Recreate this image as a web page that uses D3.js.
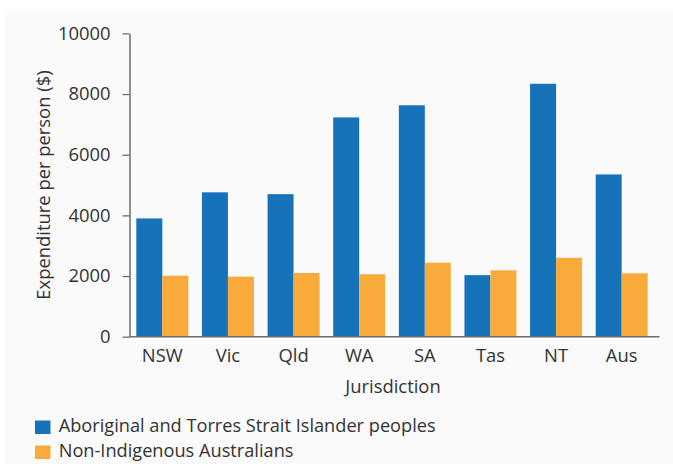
<!DOCTYPE html>
<html>
<head>
<meta charset="utf-8">
<script src="https://cdn.jsdelivr.net/npm/d3@7"></script>
<style>
  html, body { margin: 0; padding: 0; background: #ffffff; }
  svg { display: block; }
  text { font-family: "Open Sans", Lato, sans-serif; fill: #333333; }
</style>
</head>
<body>
<svg id="chart" width="673" height="464"></svg>
<script>
const categories = ["NSW", "Vic", "Qld", "WA", "SA", "Tas", "NT", "Aus"];
const seriesNames = ["Aboriginal and Torres Strait Islander peoples", "Non-Indigenous Australians"];
const indigenous = [3900, 4760, 4700, 7230, 7630, 2030, 8340, 5350];
const nonIndigenous = [2010, 1980, 2100, 2060, 2440, 2190, 2600, 2090];
const yTicks = [0, 2000, 4000, 6000, 8000, 10000];
const colors = ["#1673ba", "#f8ab3a"];
const FONT = "\"Open Sans\", sans-serif";
const FS = "18.4px";
const LFS = "18.2px";

const svg = d3.select("#chart");
svg.append("rect").attr("x", 5).attr("y", 10).attr("width", 668).attr("height", 454).attr("fill", "#fafafa");

const axisLeftX = 129.5, axisRightX = 659.5;
const y = d3.scaleLinear().domain([0, 10000]).range([336.7, 33.4]);
const x = d3.scaleBand().domain(categories).range([129.5, 654.5]).paddingInner(0.208).paddingOuter(0.104);
const xs = d3.scaleBand().domain([0, 1]).range([0, x.bandwidth()]);

const rows = categories.map((c, i) => ({ cat: c, vals: [indigenous[i], nonIndigenous[i]] }));

const g = svg.append("g");
g.selectAll("g.grp").data(rows).join("g")
  .attr("transform", d => `translate(${x(d.cat)},0)`)
  .selectAll("rect").data(d => d.vals.map((v, k) => ({ v, k }))).join("rect")
  .attr("x", d => xs(d.k))
  .attr("width", xs.bandwidth())
  .attr("y", d => y(d.v))
  .attr("height", d => y(0) - y(d.v))
  .attr("fill", d => colors[d.k]);

// Y axis
const yAxis = svg.append("g").attr("transform", `translate(${axisLeftX},0)`)
  .call(d3.axisLeft(y).tickValues(yTicks).tickFormat(d3.format("d")).tickSizeInner(7).tickSizeOuter(0).tickPadding(12));
yAxis.select(".domain").attr("stroke", "#6d6d6d").attr("stroke-width", 1.5);
yAxis.selectAll(".tick line").attr("stroke", "#6d6d6d").attr("stroke-width", 1.3);
yAxis.selectAll(".tick text").style("font-size", FS).style("font-family", FONT).attr("fill", "#333");

// X axis
const xAxis = svg.append("g").attr("transform", `translate(0,${y(0)})`)
  .call(d3.axisBottom(x).tickSize(0).tickPadding(0));
xAxis.select(".domain").remove();
xAxis.append("line").attr("x1", axisLeftX).attr("x2", axisRightX).attr("y1", 0).attr("y2", 0)
  .attr("stroke", "#6d6d6d").attr("stroke-width", 1.5);
xAxis.selectAll(".tick text").attr("y", 0).attr("dy", 25).style("font-size", FS).style("font-family", FONT).attr("fill", "#333");

// Axis titles
svg.append("text").attr("x", 393).attr("y", 393.3).attr("text-anchor", "middle")
  .style("font-size", FS).style("font-family", FONT).text("Jurisdiction");
svg.append("text").attr("transform", `translate(50,${(y(0) + y(10000)) / 2}) rotate(-90)`)
  .attr("text-anchor", "middle").style("font-size", FS).style("font-family", FONT).text("Expenditure per person ($)");

// Legend
const leg = svg.append("g");
seriesNames.forEach((name, i) => {
  const base = 431.5 + i * 25;
  leg.append("rect").attr("x", 35).attr("y", base - 11).attr("width", 15.5).attr("height", 13.5).attr("fill", colors[i]);
  leg.append("text").attr("x", 58.7).attr("y", base).style("font-size", LFS).style("font-family", FONT).text(name);
});
</script>
</body>
</html>
